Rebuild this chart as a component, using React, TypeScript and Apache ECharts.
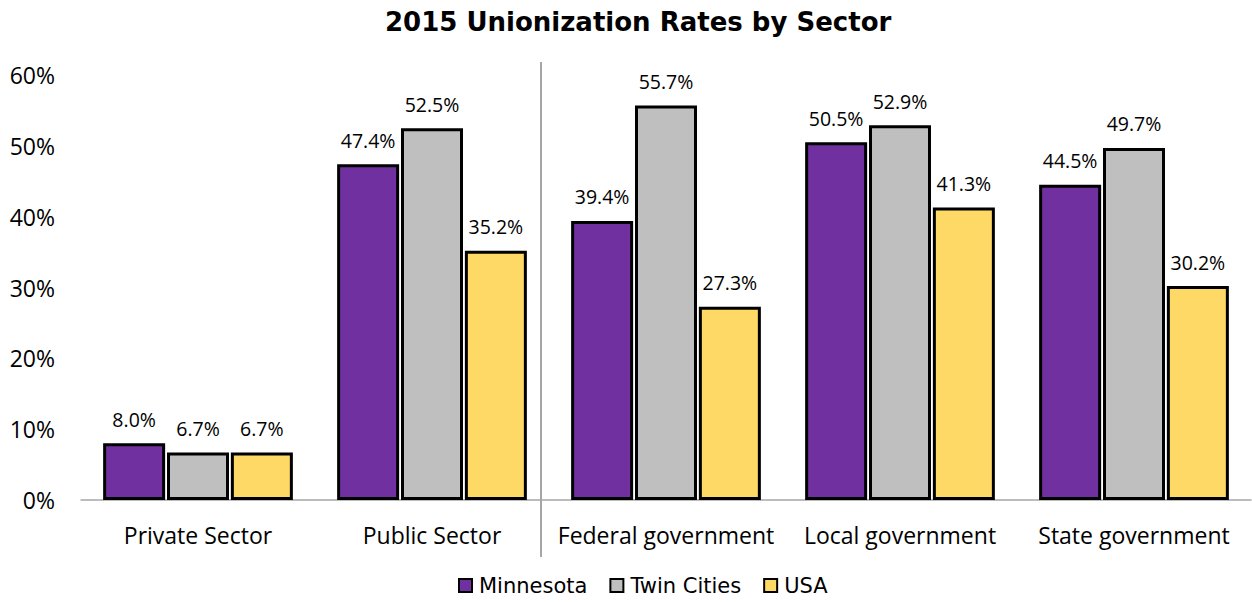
import React, { useEffect, useRef } from "react";
import * as echarts from "echarts";

const categories = ["Private Sector", "Public Sector", "Federal government", "Local government", "State government"];
const minnesota = [8.0, 47.4, 39.4, 50.5, 44.5];
const twinCities = [6.7, 52.5, 55.7, 52.9, 49.7];
const usa = [6.7, 35.2, 27.3, 41.3, 30.2];
const seriesNames = ["Minnesota", "Twin Cities", "USA"];
const colors = ["#7030A0", "#BFBFBF", "#FFD966"];

const FONT = "'Open Sans', Lato, sans-serif";
const TFONT = "'DejaVu Sans', Verdana, sans-serif";

export default function App() {
  const ref = useRef<HTMLDivElement>(null);
  useEffect(() => {
    if (!ref.current) return;
    const chart = echarts.init(ref.current, null, { renderer: "svg" });
    const values = [minnesota, twinCities, usa];
    chart.setOption({
      animation: false,
      backgroundColor: "#ffffff",
      title: {
        text: "2015 Unionization Rates by Sector",
        left: 380,
        top: 4,
        textStyle: { fontFamily: TFONT, fontSize: 26, fontWeight: "bold", color: "#000" },
      },
      legend: {
        bottom: 1,
        left: 453,
        itemWidth: 13,
        itemHeight: 13,
        itemGap: 22,
        icon: "rect",
        textStyle: { fontFamily: TFONT, fontSize: 21, color: "#000", padding: [0, 0, 0, 2] },
        data: seriesNames.map((n) => ({ name: n, itemStyle: { borderColor: "#000", borderWidth: 2 } })),
      },
      grid: { left: 81, right: 1, top: 75, bottom: 102, containLabel: false },
      xAxis: {
        type: "category",
        data: categories,
        axisLine: { lineStyle: { color: "#A6A6A6", width: 1.5 } },
        axisTick: { show: false },
        axisLabel: { fontFamily: FONT, fontSize: 23, color: "#000", margin: 23, interval: 0 },
      },
      yAxis: {
        type: "value",
        min: 0,
        max: 60,
        interval: 10,
        axisLine: { show: false },
        axisTick: { show: false },
        splitLine: { show: false },
        axisLabel: { fontFamily: FONT, fontSize: 23, color: "#000", margin: 26, formatter: "{value}%" },
      },
      graphic: [
        {
          type: "line",
          shape: { x1: 541, y1: 62, x2: 541, y2: 557 },
          style: { stroke: "#A6A6A6", lineWidth: 2 },
          z: 10,
        },
      ],
      series: seriesNames.map((name, i) => ({
        name,
        type: "bar",
        data: values[i],
        barWidth: 62,
        barGap: "3%",
        itemStyle: { color: colors[i], borderColor: "#000", borderWidth: 3 },
        label: {
          show: true,
          position: "top",
          distance: 14,
          fontFamily: FONT,
          fontSize: 19.5,
          color: "#000",
          formatter: (p: any) => p.value.toFixed(1) + "%",
        },
      })),
    });
    return () => chart.dispose();
  }, []);
  return <div ref={ref} style={{ width: 1252, height: 602, position: "absolute", left: 0, top: 0 }} />;
}
